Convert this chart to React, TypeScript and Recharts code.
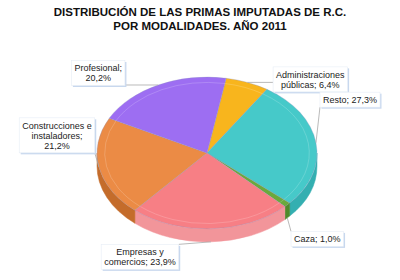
import React from "react";
import { PieChart, Pie } from "recharts";

const categories = [
  "Administraciones públicas",
  "Resto",
  "Caza",
  "Empresas y comercios",
  "Construcciones e instaladores",
  "Profesional",
];
const shares = [6.4, 27.3, 1.0, 23.9, 21.2, 20.2];
const topColors = ["#f8b51d", "#46c9c9", "#6aa93c", "#f77f85", "#eb8b45", "#9d6ef2"];
const sideColors = ["#d99a12", "#34afb1", "#4f8a2a", "#f2959a", "#c46c2b", "#7d52cf"];
const titleLines = ["DISTRIBUCIÓN DE LAS PRIMAS IMPUTADAS DE R.C.", "POR MODALIDADES. AÑO 2011"];

const data = categories.map((name, i) => ({ name, value: shares[i] }));

// layout of the fake 3d pie
const CX = 202;
const CY = 148;
const RX = 110;
const TILT = 0.69;
const DEPTH = 13;
const RAD = Math.PI / 180;
const FONT = "'Liberation Sans', Arial, sans-serif";
const LABEL_SIZE = 9;
const LINE_H = 10;
// where each label box sits relative to its anchor on the pie rim
const labelOffsets = [
  [63, -3],
  [34, -43],
  [30, 21],
  [-71, 15],
  [-42, -32],
  [-60, -12],
];

const pt = (cx: number, cy: number, rx: number, ry: number, a: number) => [
  cx + rx * Math.cos(a * RAD),
  cy - ry * Math.sin(a * RAD),
];

function wrap(text: string, max = 16) {
  const out: string[] = [];
  let cur = "";
  text.split(" ").forEach((w) => {
    const next = cur ? cur + " " + w : w;
    if (next.length > max && cur) {
      out.push(cur);
      cur = w;
    } else cur = next;
  });
  if (cur) out.push(cur);
  return out;
}

let ctx: CanvasRenderingContext2D | null = null;
function textWidth(s: string) {
  if (!ctx) ctx = document.createElement("canvas").getContext("2d");
  if (!ctx) return s.length * 4.6;
  ctx.font = `${LABEL_SIZE}px 'Liberation Sans'`;
  return ctx.measureText(s).width;
}

function renderSlice(props: any) {
  const { cx, cy, outerRadius, startAngle, endAngle, index } = props;
  const rx = outerRadius;
  const ry = outerRadius * TILT;
  const hi = Math.max(startAngle, endAngle);
  const lo = Math.min(startAngle, endAngle);
  const large = hi - lo > 180 ? 1 : 0;
  const [x1, y1] = pt(cx, cy, rx, ry, hi);
  const [x2, y2] = pt(cx, cy, rx, ry, lo);

  // side wall, only on the front half of the rim
  const walls: string[] = [];
  for (let k = -2; k <= 2; k++) {
    const a = Math.min(hi, 360 + 360 * k);
    const b = Math.max(lo, 180 + 360 * k);
    if (a > b) {
      const [ax, ay] = pt(cx, cy, rx, ry, a);
      const [bx, by] = pt(cx, cy, rx, ry, b);
      const lg = a - b > 180 ? 1 : 0;
      walls.push(
        `M${ax},${ay} A${rx},${ry} 0 ${lg} 1 ${bx},${by} L${bx},${by + DEPTH} A${rx},${ry} 0 ${lg} 0 ${ax},${ay + DEPTH} Z`
      );
    }
  }

  const irx = rx * 0.93;
  const iry = ry * 0.93;
  const [ix1, iy1] = pt(cx, cy, irx, iry, hi);
  const [ix2, iy2] = pt(cx, cy, irx, iry, lo);

  return (
    <g key={`slice-${index}`}>
      {walls.map((d, i) => (
        <path key={i} d={d} fill={sideColors[index]} stroke={sideColors[index]} strokeWidth={0.5} />
      ))}
      <path
        d={`M${cx},${cy} L${x1},${y1} A${rx},${ry} 0 ${large} 1 ${x2},${y2} Z`}
        fill={topColors[index]}
        stroke="#8a8fbf"
        strokeOpacity={0.5}
        strokeWidth={0.6}
      />
      <path
        d={`M${ix1},${iy1} A${irx},${iry} 0 ${large} 1 ${ix2},${iy2}`}
        fill="none"
        stroke="#ffffff"
        strokeOpacity={0.18}
        strokeWidth={1}
      />
    </g>
  );
}

function renderLabel(props: any) {
  const { cx, cy, outerRadius, midAngle, index, value } = props;
  const rx = outerRadius;
  const ry = outerRadius * TILT;
  let [ax, ay] = pt(cx, cy, rx, ry, midAngle);
  if (Math.sin(midAngle * RAD) < -0.5) ay += DEPTH;
  const lines = wrap(`${categories[index]}; ${value.toFixed(1).replace(".", ",")}%`);
  const w = Math.max(...lines.map(textWidth)) + 6;
  const h = lines.length * LINE_H + 5;
  const bx = ax + labelOffsets[index][0];
  const by = ay + labelOffsets[index][1];
  const left = bx - w / 2;
  const top = by - h / 2;
  const nx = Math.min(Math.max(ax, left), left + w);
  const ny = Math.min(Math.max(ay, top), top + h);
  const showLine = Math.hypot(nx - ax, ny - ay) > 12;
  return (
    <g key={`label-${index}`}>
      {showLine && <line x1={ax} y1={ay} x2={nx} y2={ny} stroke="#a8a8a8" strokeWidth={0.8} />}
      <rect x={left + 1.5} y={top + 1.5} width={w} height={h} fill="#c8d8ee" />
      <rect x={left} y={top} width={w} height={h} fill="#ffffff" stroke="#e6edf6" strokeWidth={0.6} />
      <text x={bx} textAnchor="middle" fontFamily={FONT} fontSize={LABEL_SIZE} fill="#222">
        {lines.map((l, i) => (
          <tspan key={i} x={bx} y={top + 3 + LINE_H * (i + 0.8)}>
            {l}
          </tspan>
        ))}
      </text>
    </g>
  );
}

export default function App() {
  return (
    <div style={{ position: "absolute", left: 0, top: 0, width: 400, height: 280, background: "#fff" }}>
      <div
        style={{
          position: "absolute",
          left: 0,
          top: 5,
          width: 400,
          textAlign: "center",
          fontFamily: FONT,
          fontWeight: "bold",
          fontSize: 11.5,
          lineHeight: "14px",
          color: "#111",
        }}
      >
        {titleLines.map((t) => (
          <div key={t}>{t}</div>
        ))}
      </div>
      <div style={{ position: "absolute", left: 0, top: 0 }}>
        <PieChart width={400} height={280}>
          <Pie
            data={data}
            dataKey="value"
            nameKey="name"
            cx={CX}
            cy={CY}
            outerRadius={RX}
            startAngle={80}
            endAngle={-280}
            fill="transparent"
            stroke="none"
            label={renderSlice}
            labelLine={false}
            isAnimationActive={false}
          />
          <Pie
            data={data}
            dataKey="value"
            nameKey="name"
            cx={CX}
            cy={CY}
            outerRadius={RX}
            startAngle={80}
            endAngle={-280}
            fill="transparent"
            stroke="none"
            label={renderLabel}
            labelLine={false}
            isAnimationActive={false}
          />
        </PieChart>
      </div>
    </div>
  );
}
